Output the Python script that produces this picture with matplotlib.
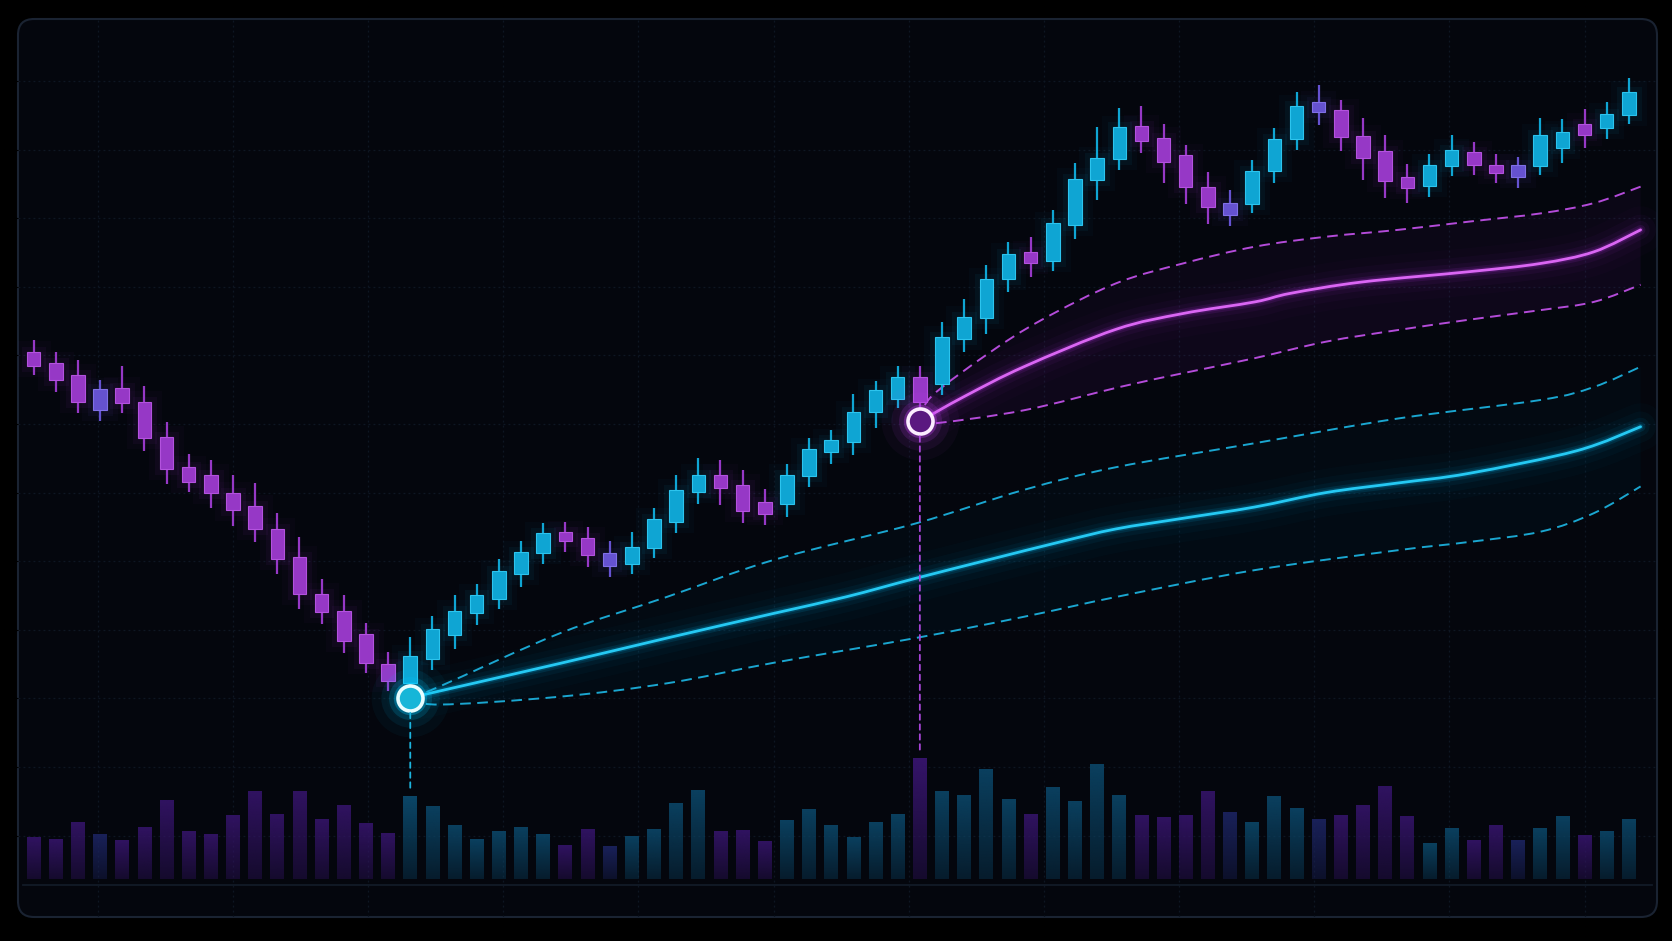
import numpy as np
import matplotlib
matplotlib.use("Agg")
import matplotlib.pyplot as plt
from matplotlib.patches import FancyBboxPatch, ConnectionPatch, PathPatch
from matplotlib.path import Path
from matplotlib.colors import to_rgb

# daily candles (price units)
opens = [110.5, 108.9, 107.2, 105.1, 105.3, 103.2, 98.1, 93.7, 92.5, 90.0,
         88.1, 84.7, 80.6, 75.2, 72.8, 69.4, 65.0, 62.2, 65.7, 69.2,
         72.4, 74.5, 78.1, 81.2, 84.3, 83.4, 81.2, 79.6, 81.9, 85.7,
         90.1, 92.5, 91.1, 88.6, 88.3, 92.4, 95.9, 97.4, 101.7, 103.7,
         106.8, 105.9, 112.4, 115.5, 121.1, 125.1, 123.8, 129.0, 135.5, 138.6,
         143.5, 141.7, 139.2, 134.5, 132.2, 132.1, 136.9, 141.5, 147.0, 145.8,
         142.0, 139.8, 136.0, 134.7, 137.6, 139.7, 137.8, 137.7, 137.6, 140.2,
         143.7, 143.1, 145.1]
highs = [112.2, 110.5, 109.4, 106.4, 108.4, 105.5, 100.3, 95.6, 94.7, 92.5,
         91.4, 87.0, 83.5, 77.4, 75.0, 71.0, 66.7, 69.0, 72.0, 75.0,
         76.7, 80.3, 82.9, 85.5, 85.7, 85.0, 82.9, 84.3, 87.8, 92.6,
         95.0, 94.7, 93.3, 90.5, 94.1, 98.0, 99.1, 104.3, 106.2, 108.4,
         108.4, 114.8, 118.2, 123.2, 126.5, 127.2, 131.2, 138.0, 143.3, 146.0,
         146.3, 143.7, 140.7, 136.7, 134.1, 138.5, 143.1, 148.4, 149.4, 147.3,
         144.6, 142.2, 137.9, 139.4, 142.1, 141.1, 139.4, 138.9, 144.6, 144.4,
         145.9, 146.9, 150.4]
lows = [107.1, 104.7, 101.6, 100.5, 101.6, 96.0, 91.2, 90.1, 87.8, 85.1,
        82.8, 78.2, 73.0, 70.8, 66.6, 63.7, 61.1, 60.9, 64.2, 67.2,
        70.7, 73.0, 76.3, 79.6, 81.3, 79.1, 77.7, 78.2, 80.5, 84.1,
        88.3, 88.2, 85.5, 85.3, 86.5, 90.8, 94.2, 95.5, 99.4, 102.3,
        102.0, 104.2, 110.5, 113.1, 119.2, 121.4, 122.3, 126.9, 132.7, 137.1,
        139.5, 135.2, 132.1, 129.1, 128.8, 130.7, 135.1, 139.9, 143.6, 139.8,
        135.6, 133.0, 132.2, 133.1, 136.2, 136.3, 135.2, 134.4, 136.3, 138.1,
        140.3, 141.6, 143.7]
closes = [108.5, 106.4, 103.2, 102.1, 103.1, 97.9, 93.4, 91.6, 90.0, 87.5,
          84.7, 80.3, 75.2, 72.6, 68.4, 65.1, 62.6, 66.2, 70.1, 72.8,
          75.1, 78.6, 81.3, 84.1, 83.0, 80.9, 79.3, 82.1, 86.1, 90.4,
          92.5, 90.6, 87.3, 86.9, 92.5, 96.3, 97.6, 101.8, 104.9, 106.9,
          103.2, 112.7, 115.6, 121.1, 124.8, 123.5, 129.3, 135.7, 138.8, 143.3,
          141.3, 138.2, 134.5, 131.6, 130.4, 136.9, 141.5, 146.3, 145.5, 141.9,
          138.8, 135.4, 134.4, 137.8, 139.9, 137.8, 136.6, 136.0, 142.1, 142.6,
          142.1, 145.2, 148.4]
volume = [417, 400, 567, 450, 390, 520, 783, 480, 450, 637,
          880, 643, 880, 597, 737, 560, 457, 830, 730, 533,
          393, 480, 513, 447, 337, 497, 323, 427, 500, 757,
          887, 477, 487, 380, 590, 693, 533, 417, 570, 650,
          1203, 873, 840, 1097, 797, 643, 913, 780, 1150, 840,
          640, 620, 640, 880, 667, 563, 827, 703, 597, 640,
          740, 923, 630, 353, 510, 390, 537, 390, 507, 623,
          440, 480, 600]
neutral = [3, 26, 54, 58, 67]  # indecision candles, drawn in violet

# marked turning points and the projection fans that start from them
events = [17, 40]
event_price = [60.1, 100.4]

cyan_mid_x = [17, 23.76, 28.59, 33.42, 36.67, 39.81, 43.1, 46.32, 48.85, 51.87, 55.12, 58.33, 61.58, 64.78, 69.65, 72.53]
cyan_mid = [60.1, 65.1, 68.8, 72.4, 74.8, 77.5, 80.2, 82.8, 84.7, 86.25, 87.9, 90.0, 91.4, 92.8, 96.1, 99.6]
cyan_up_x = [17, 18.3, 23.76, 28.59, 33.42, 39.81, 44.7, 48.85, 55.12, 61.58, 68.01, 70.42, 72.53]
cyan_upper = [60.1, 61.7, 69.5, 74.8, 80.2, 85.5, 90.4, 93.7, 97.2, 100.8, 103.5, 105.4, 108.35]
cyan_lo_x = [17, 18.3, 23.76, 28.59, 33.42, 39.81, 44.7, 49.03, 55.12, 61.58, 64.78, 68.01, 70.42, 72.53]
cyan_lower = [60.1, 59.1, 60.25, 62.2, 65.2, 68.8, 71.9, 74.9, 78.7, 81.6, 82.8, 84.3, 87.0, 90.9]

mag_mid_x = [40, 42.0, 44.7, 48.85, 51.87, 55.12, 56.73, 59.95, 64.78, 68.01, 70.42, 72.53]
mag_mid = [100.4, 104.0, 108.35, 113.8, 116.1, 117.8, 119.05, 120.7, 122.2, 123.4, 125.1, 128.3]
mag_up_x = [40, 40.52, 43.1, 45.51, 48.85, 51.87, 55.12, 58.33, 61.58, 64.78, 68.01, 70.42, 72.53]
mag_upper = [100.4, 104.0, 110.3, 115.2, 120.5, 123.4, 125.85, 127.3, 128.3, 129.5, 130.7, 132.2, 134.6]
mag_lo_x = [40, 40.68, 44.7, 49.03, 51.87, 55.12, 58.33, 61.58, 64.78, 68.01, 70.42, 72.53]
mag_lower = [100.4, 100.1, 102.0, 105.4, 107.4, 109.6, 112.0, 113.7, 115.2, 116.6, 117.8, 120.3]

UP, UP_EDGE = "#0fa5d3", "#2cc4ee"
DOWN, DOWN_EDGE = "#9638c6", "#b352de"
MID, MID_EDGE = "#6552d0", "#8070e6"
VOL_UP, VOL_DOWN, VOL_MID = "#0b4668", "#35146a", "#1c2462"

fig = plt.figure(figsize=(16.72, 9.41), dpi=100, facecolor="#000000")

# rounded dark panel, drawn in pixel units
bg = fig.add_axes([0, 0, 1, 1])
bg.set_xlim(0, 1672)
bg.set_ylim(0, 941)
bg.axis("off")
bg.add_patch(FancyBboxPatch((18, 24), 1639, 898, boxstyle="round,pad=0,rounding_size=16",
                            fc="#04060d", ec="#1a2332", lw=1.5))

ax = fig.add_axes([18 / 1672, 24 / 941, 1639 / 1672, 898 / 941])
ax.set_facecolor("none")
for s in ax.spines.values():
    s.set_visible(False)
ax.set_xticks(np.arange(2.9, 73, 6.1))
ax.set_yticks(np.arange(40, 151, 10))
ax.tick_params(left=False, bottom=False, labelleft=False, labelbottom=False)
ax.grid(True, color="#0e1623", lw=0.9, ls=(0, (1.5, 2.5)))
ax.set_axisbelow(True)

x = np.arange(len(opens))
o = np.array(opens)
c = np.array(closes)
fills, edges = [], []
for i in x:
    if i in neutral:
        fills.append(MID); edges.append(MID_EDGE)
    elif c[i] >= o[i]:
        fills.append(UP); edges.append(UP_EDGE)
    else:
        fills.append(DOWN); edges.append(DOWN_EDGE)
bottoms = np.minimum(o, c)
heights = np.abs(c - o)

# soft halo behind candles
for lw, a in [(16, 0.03), (8, 0.06)]:
    glow = [to_rgb(f) + (a,) for f in fills]
    ax.bar(x, heights, bottom=bottoms, width=0.61, facecolor="none", edgecolor=glow, lw=lw, zorder=3)
ax.vlines(x, lows, highs, colors=fills, lw=1.6, zorder=4)
ax.bar(x, heights, bottom=bottoms, width=0.61, color=fills, edgecolor=edges, lw=0.8, zorder=5)


def smooth(xs, ys):
    # curve drawn through the read points (Catmull-Rom as cubic Bezier)
    p = np.column_stack([xs, ys]).astype(float)
    verts, codes = [p[0]], [Path.MOVETO]
    for i in range(len(p) - 1):
        p0 = p[i - 1] if i > 0 else p[i]
        p3 = p[i + 2] if i + 2 < len(p) else p[i + 1]
        verts += [p[i] + (p[i + 1] - p0) / 6, p[i + 1] - (p3 - p[i]) / 6, p[i + 1]]
        codes += [Path.CURVE4] * 3
    return Path(verts, codes)


def fan(mx, mid, ux, upper, lx, lower, line_c, dash_c, glow_c, fill_a):
    ax.fill(np.r_[ux, lx[::-1]], np.r_[upper, lower[::-1]], color=glow_c, alpha=fill_a, lw=0, zorder=1)
    ax.fill(np.r_[mx, lx[::-1]], np.r_[mid, lower[::-1]], color=glow_c, alpha=fill_a * 0.5, lw=0, zorder=1)
    mid_path = smooth(mx, mid)
    for lw, a in [(34, 0.02), (22, 0.035), (13, 0.06), (7, 0.12), (4, 0.2)]:
        ax.add_patch(PathPatch(mid_path, fc="none", ec=glow_c, lw=lw, alpha=a, capstyle="round", zorder=2))
    ax.add_patch(PathPatch(mid_path, fc="none", ec=line_c, lw=2.0, capstyle="round", zorder=3))
    for xs, ys in [(ux, upper), (lx, lower)]:
        ax.add_patch(PathPatch(smooth(xs, ys), fc="none", ec=dash_c, lw=1.4,
                               ls=(0, (5.5, 3.3)), zorder=3))


fan(cyan_mid_x, cyan_mid, cyan_up_x, cyan_upper, cyan_lo_x, cyan_lower,
    "#25c9f3", "#1aa6d0", "#00b4ee", 0.025)
fan(mag_mid_x, mag_mid, mag_up_x, mag_upper, mag_lo_x, mag_lower,
    "#da66f3", "#b44bd9", "#b030e0", 0.045)

# volume pane on a twin axis
vax = ax.twinx()
vax.set_axis_off()
for i, v in enumerate(volume):
    if i in neutral:
        base = VOL_MID
    elif closes[i] >= opens[i]:
        base = VOL_UP
    else:
        base = VOL_DOWN
    img = np.zeros((64, 1, 4))
    img[..., :3] = to_rgb(base)
    img[:, 0, 3] = np.linspace(0.35, 1.0 if i in events else 0.9, 64)
    vax.imshow(img, extent=(i - 0.31, i + 0.31, 0, v), origin="lower", aspect="auto",
               interpolation="bilinear", zorder=2)
vax.axhline(-60, xmin=0.003, xmax=0.997, color="#121a27", lw=1.3, zorder=1)

# markers on the turning points, with dashed drops to their volume bars
ring_fill = ["#16b6d8", "#5a1880"]
ring_edge = ["#e6fdff", "#fcecff"]
ring_glow = ["#00c8ff", "#c040f0"]
drop_c = ["#1cb4de", "#a844d8"]
for k, (ei, ep) in enumerate(zip(events, event_price)):
    for ms, a in [(56, 0.04), (42, 0.08), (31, 0.16), (24, 0.32)]:
        ax.plot(ei, ep, "o", ms=ms, color=ring_glow[k], alpha=a, mew=0, zorder=6)
    ax.plot(ei, ep, "o", ms=18, mfc=ring_fill[k], mec=ring_edge[k], mew=2.6, zorder=7)
    con = ConnectionPatch(xyA=(ei, ep - 2.2), coordsA=ax.transData,
                          xyB=(ei, volume[ei] + 60), coordsB=vax.transData,
                          color=drop_c[k], lw=1.3, ls=(0, (3, 2.5)))
    vax.add_artist(con)

ax.set_xlim(-0.704, 73.27)
ax.set_ylim(28.13, 159.04)
vax.set_ylim(-380, 8600)

fig.savefig("out.png", dpi=100, facecolor=fig.get_facecolor())
